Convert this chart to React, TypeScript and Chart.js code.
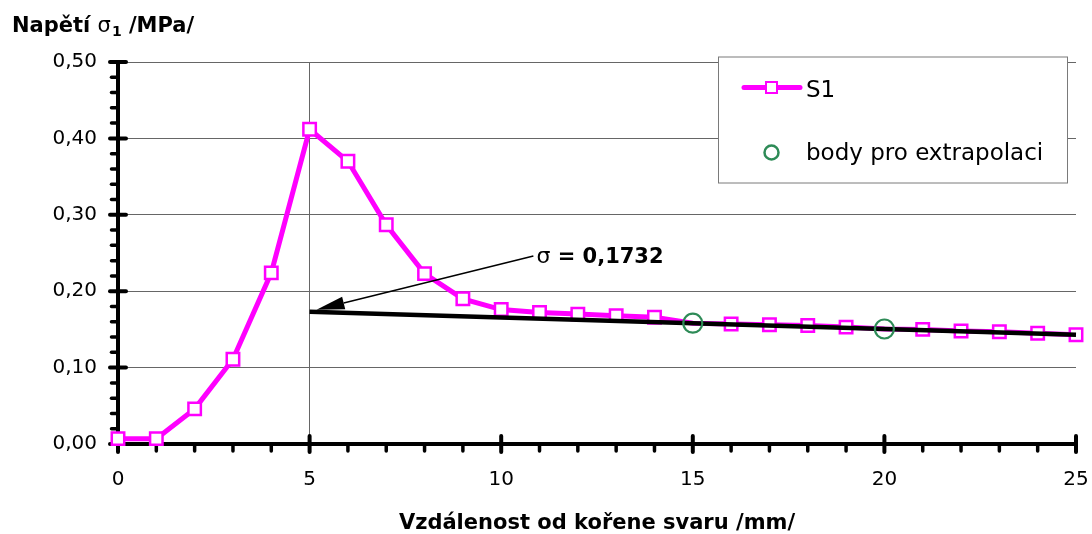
import React, { useEffect, useRef } from 'react';
import { Chart, registerables } from 'chart.js';

Chart.register(...registerables);

// ---------- data ----------
const distances = [0, 1, 2, 3, 4, 5, 6, 7, 8, 9, 10, 11, 12, 13, 14, 15, 16, 17, 18, 19, 20, 21, 22, 23, 24, 25];
const s1Stress = [
  0.007, 0.007, 0.046, 0.111, 0.224, 0.412, 0.370, 0.287, 0.223, 0.190,
  0.176, 0.172, 0.170, 0.168, 0.166, 0.158, 0.157, 0.156, 0.155, 0.153,
  0.1505, 0.150, 0.148, 0.147, 0.145, 0.143,
];
const extrapolationX = [15, 20];
const extrapolationY = [0.1581, 0.1505];
const fitLineX = [5, 25];
const fitLineY = [0.1732, 0.143];

const seriesLabel = 'S1';
const pointsLabel = 'body pro extrapolaci';
const annotationValue = '0,1732';
const xTitle = 'Vzdálenost od kořene svaru /mm/';
const yTitleMain = 'Napětí ';
const yTitleSymbol = 'σ';
const yTitleSub = '1';
const yTitleUnit = ' /MPa/';

const MAGENTA = '#FF00FF';
const GREEN = '#2E8B57';
const GRID = '#666666';
const FONT = "'DejaVu Sans'";

const decorPlugin = {
  id: 'decor',
  beforeDatasetsDraw(chart: any) {
    const { ctx, scales } = chart;
    const xs = scales.x;
    const ys = scales.y;
    const left = xs.getPixelForValue(0);
    const right = xs.getPixelForValue(25);
    const bottom = ys.getPixelForValue(0);
    const top = ys.getPixelForValue(0.5);
    ctx.save();
    ctx.strokeStyle = '#000';
    ctx.lineCap = 'butt';
    ctx.lineWidth = 4;
    // axis lines
    ctx.beginPath();
    ctx.moveTo(left, top - 1);
    ctx.lineTo(left, bottom + 2);
    ctx.moveTo(left - 2, bottom);
    ctx.lineTo(right + 1, bottom);
    ctx.stroke();
    ctx.lineCap = 'round';
    // y ticks
    for (let j = 0; j <= 25; j++) {
      const py = ys.getPixelForValue(j * 0.02);
      ctx.beginPath();
      if (j % 5 === 0) {
        ctx.lineWidth = 4;
        ctx.moveTo(left - 8, py);
        ctx.lineTo(left + 8, py);
      } else {
        ctx.lineWidth = 3.5;
        ctx.moveTo(left - 6.5, py);
        ctx.lineTo(left - 2, py);
      }
      ctx.stroke();
    }
    // x ticks
    for (let i = 0; i <= 25; i++) {
      const px = xs.getPixelForValue(i);
      ctx.beginPath();
      if (i % 5 === 0) {
        ctx.lineWidth = 4;
        ctx.moveTo(px, bottom - 8);
        ctx.lineTo(px, bottom + 8);
      } else {
        ctx.lineWidth = 3.5;
        ctx.moveTo(px, bottom + 2);
        ctx.lineTo(px, bottom + 7);
      }
      ctx.stroke();
    }
    ctx.restore();
  },
  afterDraw(chart: any) {
    const { ctx, scales, chartArea } = chart;
    const xs = scales.x;
    const ys = scales.y;
    ctx.save();

    // ---- y axis title ----
    ctx.fillStyle = '#000';
    ctx.textBaseline = 'alphabetic';
    ctx.textAlign = 'left';
    let tx = 12;
    const ty = 32;
    ctx.font = `bold 21px ${FONT}`;
    ctx.fillText(yTitleMain, tx, ty);
    tx += ctx.measureText(yTitleMain).width;
    ctx.font = `21px ${FONT}`;
    ctx.fillText(yTitleSymbol, tx, ty);
    tx += ctx.measureText(yTitleSymbol).width + 1;
    ctx.font = `bold 14px ${FONT}`;
    ctx.fillText(yTitleSub, tx, ty + 4);
    tx += ctx.measureText(yTitleSub).width;
    ctx.font = `bold 21px ${FONT}`;
    ctx.fillText(yTitleUnit, tx, ty);

    // ---- legend ----
    const bx = chartArea.right - 358;
    const by = chartArea.top - 5.5;
    const bw = 349;
    const bh = 126;
    ctx.fillStyle = '#fff';
    ctx.fillRect(bx, by, bw, bh);
    ctx.strokeStyle = '#7a7a7a';
    ctx.lineWidth = 1;
    ctx.strokeRect(bx + 0.5, by + 0.5, bw, bh);
    // S1 entry
    const l1y = by + 31;
    ctx.strokeStyle = MAGENTA;
    ctx.lineWidth = 5;
    ctx.lineCap = 'round';
    ctx.beginPath();
    ctx.moveTo(bx + 26, l1y);
    ctx.lineTo(bx + 82, l1y);
    ctx.stroke();
    ctx.fillStyle = '#fff';
    ctx.fillRect(bx + 48, l1y - 5.5, 11, 11);
    ctx.lineWidth = 2;
    ctx.strokeRect(bx + 48, l1y - 5.5, 11, 11);
    ctx.fillStyle = '#000';
    ctx.font = `23px ${FONT}`;
    ctx.fillText(seriesLabel, bx + 88, l1y + 9.5);
    // points entry
    const l2y = by + 96;
    ctx.strokeStyle = GREEN;
    ctx.lineWidth = 2.5;
    ctx.beginPath();
    ctx.arc(bx + 53.5, l2y, 7, 0, Math.PI * 2);
    ctx.stroke();
    ctx.fillStyle = '#000';
    ctx.fillText(pointsLabel, bx + 88, l2y + 7.5);

    // ---- annotation arrow ----
    const tipX = xs.getPixelForValue(5.18);
    const tipY = ys.getPixelForValue(0.1757);
    const sX = xs.getPixelForValue(10.84);
    const sY = ys.getPixelForValue(0.2462);
    const ang = Math.atan2(tipY - sY, tipX - sX);
    const headLen = 28;
    const headHalf = 6.5;
    const baseX = tipX - headLen * Math.cos(ang);
    const baseY = tipY - headLen * Math.sin(ang);
    ctx.strokeStyle = '#000';
    ctx.lineWidth = 1.5;
    ctx.lineCap = 'butt';
    ctx.beginPath();
    ctx.moveTo(sX, sY);
    ctx.lineTo(baseX, baseY);
    ctx.stroke();
    ctx.fillStyle = '#000';
    ctx.beginPath();
    ctx.moveTo(tipX, tipY);
    ctx.lineTo(baseX + headHalf * Math.sin(ang), baseY - headHalf * Math.cos(ang));
    ctx.lineTo(baseX - headHalf * Math.sin(ang), baseY + headHalf * Math.cos(ang));
    ctx.closePath();
    ctx.fill();
    // annotation text
    let ax = sX + 3;
    const ay = sY + 7;
    ctx.font = `22px ${FONT}`;
    ctx.fillText('σ', ax, ay);
    ax += ctx.measureText('σ').width;
    ctx.font = `bold 21px ${FONT}`;
    ctx.fillText(' = ' + annotationValue, ax, ay);

    ctx.restore();
  },
};

export default function App() {
  const canvasRef = useRef<HTMLCanvasElement | null>(null);

  useEffect(() => {
    const canvas = canvasRef.current;
    if (!canvas) return;
    const s1Data = distances.map((x, i) => ({ x, y: s1Stress[i] }));
    const s1Radius = distances.map((x) => (extrapolationX.includes(x) ? 0 : 8.8));
    const extrapData = extrapolationX.map((x, i) => ({ x, y: extrapolationY[i] }));
    const fitData = fitLineX.map((x, i) => ({ x, y: fitLineY[i] }));

    const chart = new Chart(canvas, {
      type: 'scatter',
      data: {
        datasets: [
          {
            label: pointsLabel,
            data: extrapData,
            showLine: false,
            pointStyle: 'circle',
            pointRadius: 9.5,
            pointBorderWidth: 2.2,
            pointBorderColor: GREEN,
            pointBackgroundColor: 'rgba(0,0,0,0)',
            order: 1,
            clip: false,
          } as any,
          {
            label: 'fit',
            data: fitData,
            showLine: true,
            borderColor: '#000',
            borderWidth: 4.5,
            pointRadius: 0,
            order: 2,
            clip: false,
          } as any,
          {
            label: seriesLabel,
            data: s1Data,
            showLine: true,
            borderColor: MAGENTA,
            borderWidth: 5,
            pointStyle: 'rect',
            pointRadius: s1Radius,
            pointBorderWidth: 2.5,
            pointBorderColor: MAGENTA,
            pointBackgroundColor: '#ffffff',
            order: 3,
            clip: false,
          } as any,
        ],
      },
      options: {
        responsive: false,
        animation: false,
        devicePixelRatio: 1,
        events: [],
        layout: { padding: { top: 62, right: 16, left: 0, bottom: 0 } },
        plugins: {
          legend: { display: false },
          tooltip: { enabled: false },
          title: { display: false },
        },
        scales: {
          x: {
            type: 'linear',
            min: 0,
            max: 25,
            afterFit: (s: any) => {
              s.height = 90;
              s.paddingLeft = 0;
              s.paddingRight = 0;
            },
            ticks: {
              stepSize: 5,
              color: '#000',
              font: { family: 'DejaVu Sans', size: 20 },
              padding: 24,
              maxRotation: 0,
            },
            grid: {
              drawTicks: false,
              lineWidth: 1,
              color: (c: any) => (c.tick && c.tick.value === 5 ? GRID : 'rgba(0,0,0,0)'),
            },
            border: { display: false },
            title: {
              display: true,
              text: xTitle,
              color: '#000',
              font: { family: 'DejaVu Sans', size: 21, weight: 'bold' },
              padding: { top: 0, bottom: -2 },
            },
          },
          y: {
            type: 'linear',
            min: 0,
            max: 0.5,
            afterFit: (s: any) => {
              s.width = 118;
              s.paddingTop = 0;
              s.paddingBottom = 0;
            },
            ticks: {
              stepSize: 0.1,
              color: '#000',
              font: { family: 'DejaVu Sans', size: 20 },
              padding: 21,
              callback: (v: any) => Number(v).toFixed(2).replace('.', ','),
            },
            grid: {
              drawTicks: false,
              lineWidth: 1,
              color: GRID,
            },
            border: { display: false },
          },
        },
      },
      plugins: [decorPlugin],
    });
    return () => chart.destroy();
  }, []);

  return (
    <div style={{ position: 'absolute', left: 0, top: 0, width: 1092, height: 534, background: '#fff' }}>
      <canvas ref={canvasRef} width={1092} height={534} style={{ display: 'block', width: 1092, height: 534 }} />
    </div>
  );
}
